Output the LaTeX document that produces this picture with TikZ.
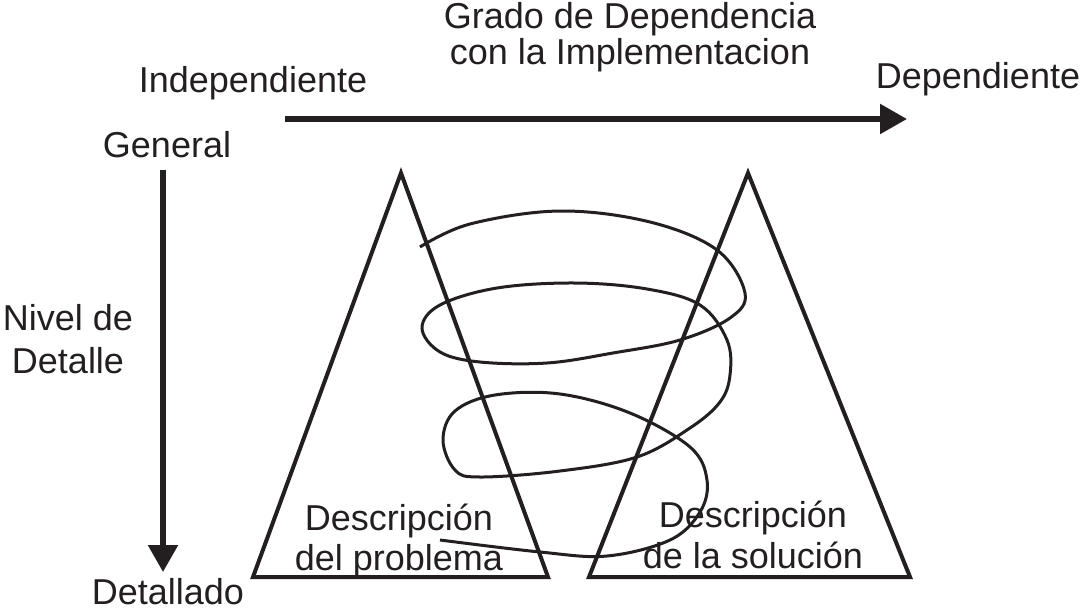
\documentclass[tikz,border=0pt]{standalone}
\usepackage{fontspec}
\setmainfont{Liberation Sans}
\usepackage{tikz}
\usetikzlibrary{arrows.meta}
\definecolor{inkblack}{RGB}{35,31,32}

\begin{document}
\begin{tikzpicture}[x=1pt, y=-1pt, >={Triangle[length=27pt, width=29pt]},
    lbl/.style={anchor=base, inner sep=0pt, font=\fontsize{36}{40}\selectfont, text=inkblack},
    axis/.style={draw=inkblack, line width=5.5pt, ->},
    cone/.style={draw=inkblack, line width=4pt, line join=miter},
    spiral/.style={draw=inkblack, line width=3pt}]
    \useasboundingbox (0,0) rectangle (1084,613);
    % titulo y extremos
    \node[lbl] (grado) at (630,28) {Grado de Dependencia};
    \node[lbl] (grado2) at (630,64) {con la Implementacion};
    \node[lbl] (indep) at (253,92) {Independiente};
    \node[lbl] (dep) at (978,88) {Dependiente};
    \node[lbl] (general) at (167,157) {General};
    \node[lbl] (nivel) at (68,330) {Nivel de};
    \node[lbl] (nivel2) at (68,373) {Detalle};
    \node[lbl] (detallado) at (168,604) {Detallado};
    % ejes
    \coordinate (hstart) at (285,119);
    \coordinate (hend) at (907,119);
    \coordinate (vstart) at (163,170);
    \coordinate (vend) at (163,572);
    \draw[axis] (hstart) -- (hend);
    \draw[axis] (vstart) -- (vend);
    % triangulos
    \draw[cone] (401,173) -- (253,577) -- (548,577) -- cycle;
    \draw[cone] (748,173) -- (589,577) -- (910,577) -- cycle;
    \node[lbl] (prob) at (399,530) {Descripción};
    \node[lbl] (prob2) at (399,570) {del problema};
    \node[lbl] (sol) at (753,527) {Descripción};
    \node[lbl] (sol2) at (753,568) {de la solución};
    % espiral
    \draw[spiral] plot[smooth, tension=0.6] coordinates {
      (420,247) (470,224) (560,211) (650,222) (717,250) (745,293) (730,318)
      (680,340) (613,353) (547,363) (480,362) (440,352) (422,328) (440,305)
      (497,288) (575,283) (647,289) (700,305) (727,340) (730,375) (720,402)
      (690,428) (637,457) (560,471) (480,477) (455,470) (443,440) (455,411)
      (495,395) (560,394) (630,413) (690,447) (707,480) (700,512) (670,540)
      (607,556) (540,552) (440,540)
    };
\end{tikzpicture}
\end{document}
